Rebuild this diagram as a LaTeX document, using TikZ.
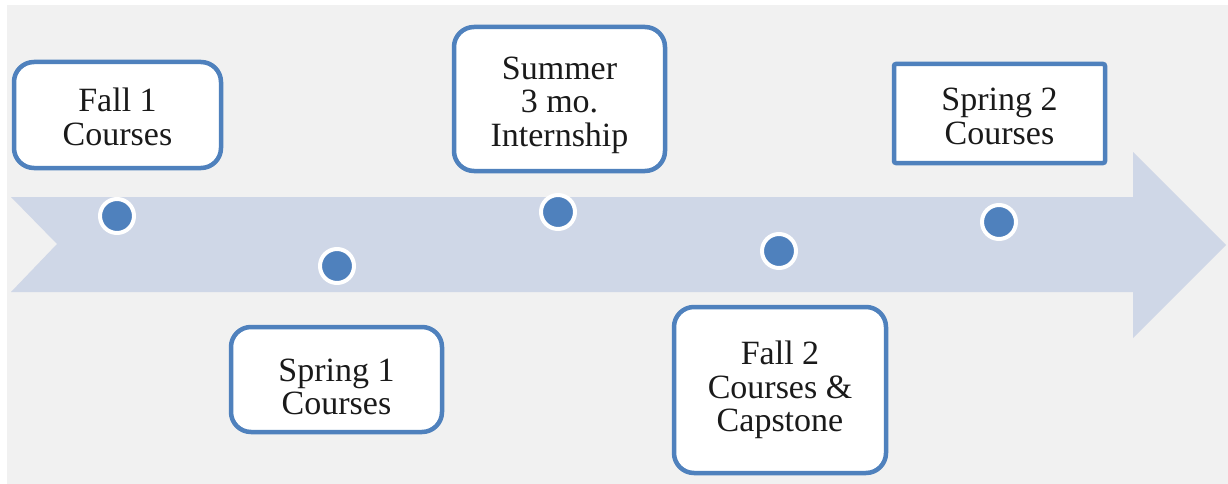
\documentclass[tikz,border=0pt]{standalone}
\usepackage{fontspec}
\setmainfont{Liberation Serif}
\definecolor{bgc}{HTML}{F1F1F1}
\definecolor{arrowc}{HTML}{CFD7E7}
\definecolor{bluec}{HTML}{4F81BD}
\definecolor{txtc}{HTML}{1A1A1A}
\newcommand\lowertext[2]{\raisebox{-#1}[\height][\depth]{\begin{tabular}{@{}c@{}}#2\end{tabular}}}
\tikzset{
  stagebox/.style={draw=bluec, fill=white, line width=4.5pt, rounded corners=20pt,
    inner sep=0pt, text=txtc,
    font=\fontsize{34}{33.5}\selectfont},
  squarebox/.style={stagebox, rounded corners=2pt},
  dot/.style={circle, fill=bluec, draw=white, line width=4pt, minimum size=34pt, inner sep=0pt}
}
\begin{document}
\begin{tikzpicture}[x=1pt,y=-1pt]
\useasboundingbox (0,0) rectangle (1228,484);
\fill[white] (0,0) rectangle (1228,484);
\fill[bgc] (7,5) rectangle (1228,484);
\fill[arrowc] (11,197) -- (1133,197) -- (1133,152) -- (1226,245) -- (1133,338) -- (1133,292) -- (11,292) -- (57,244) -- cycle;

\node[stagebox, minimum width=207pt, minimum height=106pt] (fall1) at (117.5,115) {\lowertext{6.5pt}{Fall 1\\Courses}};
\node[stagebox, minimum width=211pt, minimum height=105pt] (spring1) at (336.5,379.5) {\lowertext{12pt}{Spring 1\\Courses}};
\node[stagebox, minimum width=211pt, minimum height=144pt] (summer) at (559.5,99) {\lowertext{7pt}{Summer\\3 mo.\\Internship}};
\node[stagebox, minimum width=212pt, minimum height=166pt] (fall2) at (780,390) {\lowertext{1.5pt}{Fall 2\\Courses \&\\Capstone}};
\node[squarebox, minimum width=211pt, minimum height=99pt] (spring2) at (999.5,113.5) {\lowertext{7.5pt}{Spring 2\\Courses}};

\node[dot] (d1) at (117,216) {};
\node[dot] (d2) at (337,266) {};
\node[dot] (d3) at (558,212) {};
\node[dot] (d4) at (779,251) {};
\node[dot] (d5) at (999,222) {};
\end{tikzpicture}
\end{document}
